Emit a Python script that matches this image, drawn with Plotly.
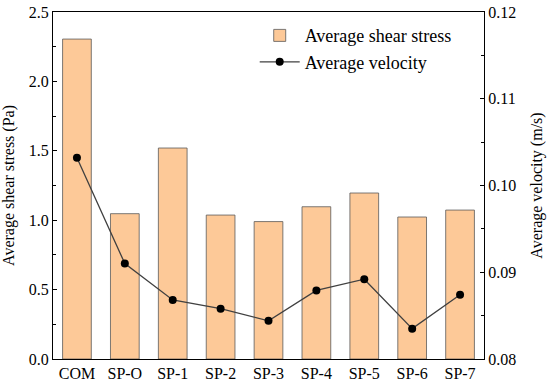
import plotly.graph_objects as go

categories = ["COM", "SP-O", "SP-1", "SP-2", "SP-3", "SP-4", "SP-5", "SP-6", "SP-7"]
shear_stress = [2.305, 1.047, 1.52, 1.037, 0.99, 1.097, 1.196, 1.023, 1.073]
velocity = [0.1032, 0.0910, 0.0868, 0.0858, 0.0844, 0.0879, 0.0892, 0.0835, 0.0874]

FONT = "Liberation Serif, Times New Roman, serif"

fig = go.Figure()
fig.add_trace(go.Bar(
    x=categories, y=shear_stress, name="Average shear stress",
    marker=dict(color="#FDC998", line=dict(color="#5a5a5a", width=0.8)),
    width=0.6, yaxis="y",
))
fig.add_trace(go.Scatter(
    x=categories, y=velocity, name="Average velocity", mode="lines+markers",
    line=dict(color="#404040", width=1.3),
    marker=dict(color="black", size=8),
    yaxis="y2",
))

fig.update_layout(
    width=550, height=386,
    margin=dict(l=53, r=66, t=12, b=27, autoexpand=False),
    plot_bgcolor="white", paper_bgcolor="white",
    font=dict(family=FONT, size=16, color="black"),
    showlegend=True,
    legend=dict(x=0.468, y=0.985, xanchor="left", yanchor="top",
                bgcolor="rgba(0,0,0,0)", font=dict(size=18),
                itemwidth=40, tracegroupgap=0),
    xaxis=dict(range=[-0.5, 8.5], showline=True, linecolor="black", linewidth=1.2,
               mirror=True, ticks="", showgrid=False, tickfont=dict(size=16),
               automargin=False),
    yaxis=dict(range=[0, 2.5], dtick=0.5, tickformat=".1f", showline=True,
               linecolor="black", linewidth=1.2, ticks="inside", ticklen=4,
               tickcolor="black", showgrid=False, zeroline=False, automargin=False,
               minor=dict(ticks="inside", ticklen=3, dtick=0.25, tickcolor="black"),
               title=dict(text="Average shear stress (Pa)", font=dict(size=16))),
    yaxis2=dict(range=[0.08, 0.12], dtick=0.01, tickformat=".2f", overlaying="y",
                side="right", showline=True, linecolor="black", linewidth=1.2,
                ticks="inside", ticklen=4, tickcolor="black", showgrid=False,
                zeroline=False, automargin=False,
                minor=dict(ticks="inside", ticklen=3, dtick=0.005, tickcolor="black"),
                title=dict(text="Average velocity (m/s)", font=dict(size=16))),
)

fig.write_html(
    "out.html",
    config={"displayModeBar": False},
    post_script="document.body.style.margin='0';document.body.style.overflow='hidden';",
)
